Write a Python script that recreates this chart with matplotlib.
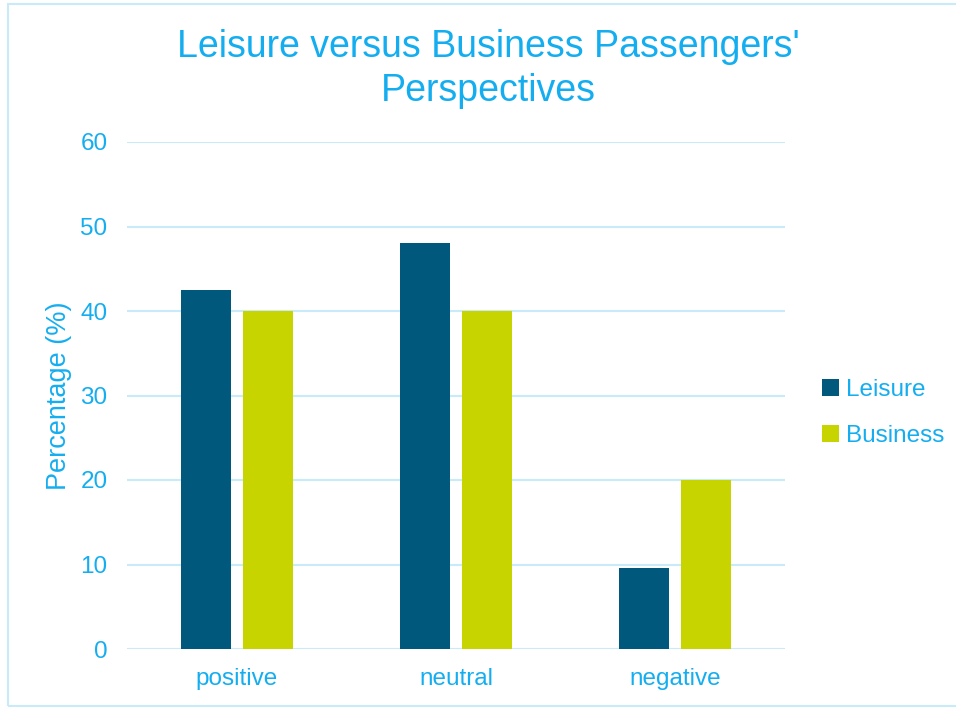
import matplotlib.pyplot as plt
import numpy as np
from matplotlib.patches import Rectangle

categories = ['positive', 'neutral', 'negative']
leisure = [42.5, 48, 9.6]
business = [40, 40, 20]
yticks = [0, 10, 20, 30, 40, 50, 60]

txt = '#14AEF0'
grid = '#C9EAF9'
c_leisure = '#00587C'
c_business = '#C8D400'

plt.rcParams['font.family'] = ['Liberation Sans', 'DejaVu Sans']

fig = plt.figure(figsize=(9.56, 7.08), dpi=100)
ax = fig.add_axes([127/956, 1-649/708, (785-127)/956, (649-142)/708])

x = np.arange(len(categories))
w = 0.228
off = 0.142
ax.bar(x - off, leisure, w, color=c_leisure, label='Leisure', zorder=3)
ax.bar(x + off, business, w, color=c_business, label='Business', zorder=3)

ax.set_xlim(-0.5, 2.5)
ax.set_ylim(0, 60)
ax.set_yticks(yticks)
for y in yticks:
    ax.axhline(y, color=grid, lw=1.5, zorder=1)
for s in ax.spines.values():
    s.set_visible(False)
ax.set_xticks(x)
ax.set_xticklabels(categories)
ax.tick_params(axis='both', length=0, labelcolor=txt, labelsize=17.5)
ax.tick_params(axis='y', pad=14)
ax.tick_params(axis='x', pad=14)
ax.set_ylabel('Percentage (%)', color=txt, fontsize=19.5)
ax.yaxis.set_label_coords(-0.083, 0.5)

fig.text(488/956, 1-69/708, "Leisure versus Business Passengers'\nPerspectives",
         ha='center', va='center', color=txt, fontsize=27, linespacing=1.3)

fig.legend(loc='center left', bbox_to_anchor=(800/956, 1-413/708),
           frameon=False, fontsize=17.5, labelcolor=txt,
           handlelength=0.7, handleheight=0.7, handletextpad=0.3,
           labelspacing=0.95)

fig.patches.append(Rectangle((8/956, 2/708), 1.0, 702/708, transform=fig.transFigure,
                             fill=False, edgecolor=grid, lw=1.5))

fig.savefig('out.png', dpi=100)
